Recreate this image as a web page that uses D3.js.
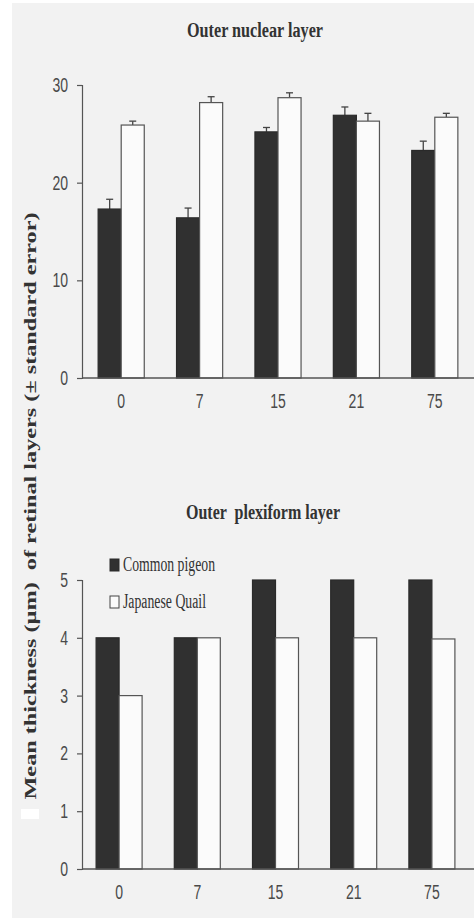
<!DOCTYPE html>
<html>
<head>
<meta charset="utf-8">
<script src="https://cdn.jsdelivr.net/npm/d3@7"></script>
<style>
  html, body { margin: 0; padding: 0; background: #fff; }
  svg { display: block; }
  .tick text { font-family: "Liberation Sans Narrow", "Liberation Sans", Arial, sans-serif; fill: #4a4a4a; }
  .serif { font-family: "Liberation Serif", "Times New Roman", serif; font-weight: bold; fill: #333; }
</style>
</head>
<body>
<svg id="chart" width="474" height="922"></svg>
<script>
// data
const ages = ['0', '7', '15', '21', '75'];
const series = ['Common pigeon', 'Japanese Quail'];

// outer nuclear layer (mean, SE)
const onlPigeon = [17.3, 16.4, 25.2, 26.9, 23.3];
const onlPigeonSE = [1.0, 1.0, 0.45, 0.85, 0.95];
const onlQuail = [25.9, 28.2, 28.7, 26.3, 26.7];
const onlQuailSE = [0.4, 0.6, 0.5, 0.8, 0.4];

// outer plexiform layer (no error bars drawn)
const oplPigeon = [4, 4, 5, 5, 5];
const oplQuail = [3, 4, 4, 4, 3.98];

const yTicksTop = [0, 10, 20, 30];
const yTicksBottom = [0, 1, 2, 3, 4, 5];

const svg = d3.select('#chart');

// grey scanned page
svg.append('rect').attr('x', 12).attr('y', 3).attr('width', 462).attr('height', 915).attr('fill', '#f2f2f2');

const fills = ['#303030', '#fbfbfb'];

// squeeze tick labels to look like a narrow face
function narrow(sel) {
  sel.attr('font-size', 20)
    .attr('textLength', function() { return this.textContent.length * 7.8; })
    .attr('lengthAdjust', 'spacingAndGlyphs');
}

function panel(opts) {
  const g = svg.append('g');
  const x = d3.scaleBand().domain(ages).range(opts.xRange).padding(0);
  const inner = d3.scaleBand().domain(series).range([0, x.bandwidth()]).paddingOuter(0.7).paddingInner(0);
  const y = d3.scaleLinear().domain(opts.yDomain).range(opts.yRange);

  const rows = ages.map((a, i) => series.map((s, k) => ({
    age: a, s, k,
    v: opts.values[k][i],
    se: opts.se ? opts.se[k][i] : null
  }))).flat();

  // error bars go behind bar tops (upward only)
  if (opts.se) {
    const eb = g.append('g').attr('stroke', '#444').attr('stroke-width', 1.3);
    rows.forEach(d => {
      const cx = x(d.age) + inner(d.s) + inner.bandwidth() / 2;
      eb.append('line').attr('x1', cx).attr('x2', cx).attr('y1', y(d.v)).attr('y2', y(d.v + d.se));
      eb.append('line').attr('x1', cx - 3.5).attr('x2', cx + 3.5).attr('y1', y(d.v + d.se)).attr('y2', y(d.v + d.se));
    });
  }

  g.selectAll('rect.bar')
    .data(rows)
    .join('rect')
    .attr('class', 'bar')
    .attr('x', d => x(d.age) + inner(d.s))
    .attr('width', inner.bandwidth())
    .attr('y', d => y(d.v))
    .attr('height', d => y(0) - y(d.v))
    .attr('fill', d => fills[d.k])
    .attr('stroke', d => d.k ? '#555' : '#2a2a2a')
    .attr('stroke-width', 1.2);

  // y axis
  const ya = g.append('g')
    .attr('transform', `translate(${opts.axisX},0)`)
    .call(d3.axisLeft(y).tickValues(opts.yTicks).tickFormat(d3.format('d')).tickSize(5).tickPadding(9));
  ya.select('.domain').attr('stroke', '#555').attr('stroke-width', 1.2);
  ya.selectAll('.tick line').attr('stroke', '#555').attr('stroke-width', 1.2);
  ya.selectAll('.tick text').call(narrow);

  // x axis: baseline only, labels below
  const xa = g.append('g')
    .attr('transform', `translate(0,${y(0)})`)
    .call(d3.axisBottom(x).tickSize(0).tickPadding(opts.xPad));
  xa.select('.domain').attr('d', `M${opts.axisX},0H474`).attr('stroke', '#555').attr('stroke-width', 1.3);
  xa.selectAll('.tick text').call(narrow);

  svg.append('text')
    .attr('class', 'serif')
    .attr('x', opts.title.x).attr('y', opts.title.y)
    .attr('text-anchor', 'middle')
    .attr('font-size', 20)
    .attr('textLength', opts.title.len)
    .attr('lengthAdjust', 'spacingAndGlyphs')
    .style('white-space', 'pre')
    .text(opts.title.text);

  return { x, y };
}

panel({
  xRange: [82, 474], yDomain: [0, 30], yRange: [378, 85], axisX: 82,
  values: [onlPigeon, onlQuail], se: [onlPigeonSE, onlQuailSE],
  yTicks: yTicksTop, xPad: 16,
  title: { text: 'Outer nuclear layer', x: 255, y: 37, len: 136 }
});

panel({
  xRange: [80, 471], yDomain: [0, 5], yRange: [869, 580], axisX: 82,
  values: [oplPigeon, oplQuail], se: null,
  yTicks: yTicksBottom, xPad: 16,
  title: { text: 'Outer  plexiform layer', x: 263, y: 519, len: 154 }
});

// legend
const lg = svg.append('g');
series.forEach((s, k) => {
  const yy = 559 + k * 37;
  lg.append('rect').attr('x', 110).attr('y', yy).attr('width', 9).attr('height', 12)
    .attr('fill', fills[k]).attr('stroke', k ? '#444' : '#2a2a2a').attr('stroke-width', 1);
  lg.append('text').attr('class', 'serif')
    .style('font-weight', 'normal')
    .attr('x', 123).attr('y', yy + 12)
    .attr('font-size', 20)
    .attr('textLength', k ? 83 : 92)
    .attr('lengthAdjust', 'spacingAndGlyphs')
    .text(s);
});

// shared y axis title
svg.append('text')
  .attr('class', 'serif')
  .attr('transform', 'translate(36,506) rotate(-90)')
  .attr('text-anchor', 'middle')
  .attr('font-size', 17.5)
  .attr('textLength', 587)
  .attr('lengthAdjust', 'spacingAndGlyphs')
  .style('white-space', 'pre')
  .text('Mean thickness (\u00b5m)  of retinal layers (\u00b1 standard error)');

// white scan patch under "Mean"
svg.append('rect').attr('x', 21).attr('y', 809).attr('width', 18).attr('height', 10).attr('fill', '#fff');
</script>
</body>
</html>
